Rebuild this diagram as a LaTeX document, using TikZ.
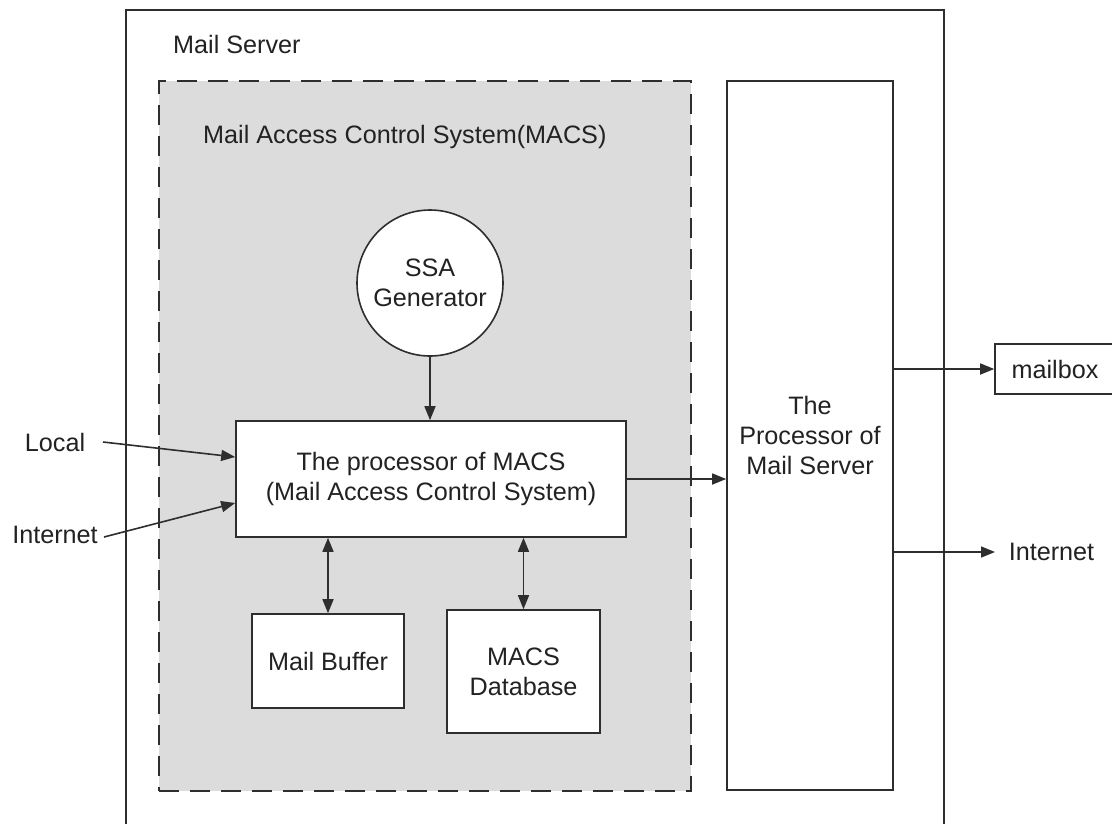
\documentclass[tikz,border=0pt]{standalone}
\usepackage{fontspec}
\setmainfont{Liberation Sans}
\usetikzlibrary{arrows.meta,calc}
\definecolor{inkline}{HTML}{2E2E2E}
\definecolor{inktext}{HTML}{222222}
\definecolor{regionfill}{HTML}{DCDCDC}
\begin{document}
\begin{tikzpicture}[x=1pt,y=-1pt,
  txt/.style={font=\fontsize{25.2}{30}\selectfont, text=inktext, inner sep=0pt},
  box/.style={draw=inkline, line width=1.6pt, fill=white, align=center,
    font=\fontsize{25.2}{30}\selectfont, text=inktext, inner sep=0pt},
  region/.style={draw=inkline, line width=1.8pt, dash pattern=on 20pt off 11pt,
    fill=regionfill, inner sep=0pt},
  arr/.style={draw=inkline, line width=1.6pt, -{Triangle[length=14pt,width=11pt]}},
  biarr/.style={draw=inkline, line width=1.6pt,
    {Triangle[length=14pt,width=11pt]}-{Triangle[length=14pt,width=11pt]}}]
\useasboundingbox (0,0) rectangle (1112,823);
\clip (0,0) rectangle (1112,823);
\fill[white] (0,0) rectangle (1112,823);

% outer mail server frame, running off the bottom edge
\node[draw=inkline, line width=1.6pt, inner sep=0pt, minimum width=818pt,
  minimum height=840pt, anchor=north west] (server frame) at (125,9) {};
\node[txt, anchor=west] (mailserver) at (173,44) {Mail Server};

% mail access control system region
\node[region, minimum width=532pt, minimum height=710pt] (macs) at (425,436) {};
\node[txt, anchor=west] (macstitle) at (203,137) {Mail Access Control System(MACS)};

% components
\node[box, circle, minimum size=146pt] (ssa) at (430,283) {SSA\\Generator};
\node[box, minimum width=390pt, minimum height=116pt] (proc) at (431,479)
  {The processor of MACS\\(Mail Access Control System)};
\node[box, minimum width=152pt, minimum height=94pt] (buffer) at (328,661) {Mail Buffer};
\node[box, minimum width=153pt, minimum height=123pt] (db) at (523.5,671.5) {MACS\\Database};
\node[box, minimum width=166pt, minimum height=709pt] (server) at (810,435.5)
  {The\\Processor of\\Mail Server};
\node[box, minimum width=120pt, minimum height=50pt] (mailbox) at (1055,369) {mailbox};

% external labels
\node[txt] (local) at (55,442) {Local};
\node[txt] (inetin) at (55,535) {Internet};
\node[txt] (inetout) at (1051.5,552) {Internet};
\coordinate (localtail) at (103,442);
\coordinate (inettail) at (104,537);
\coordinate (inethead) at (995,552);

% connectors
\draw[arr] (ssa.south) -- (ssa.south |- proc.north);
\draw[arr] (localtail) -- ([yshift=22pt]proc.west);
\draw[arr] (inettail) -- ([yshift=-24pt]proc.west);
\draw[arr] (proc.east) -- (proc.east -| server.west);
\draw[biarr] (buffer.north |- proc.south) -- (buffer.north);
\draw[biarr] (db.north |- proc.south) -- (db.north);
\draw[arr] (server.east |- mailbox.west) -- (mailbox.west);
\draw[arr] (server.east |- inethead) -- (inethead);
\end{tikzpicture}
\end{document}
